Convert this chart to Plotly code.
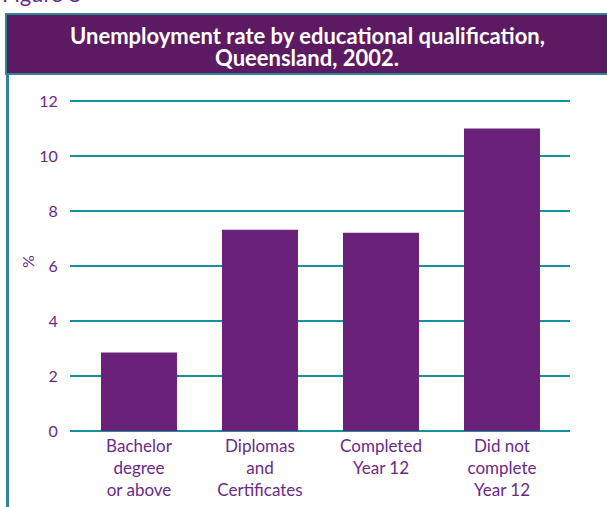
import plotly.graph_objects as go

categories = ["Bachelor<br>degree<br>or above", "Diplomas<br>and<br>Certificates",
              "Completed<br>Year 12", "Did not<br>complete<br>Year 12"]
values = [2.85, 7.32, 7.21, 11.0]
y_ticks = [0, 2, 4, 6, 8, 10, 12]
title_lines = ["Unemployment rate by educational qualification,", "Queensland, 2002."]

PURPLE_TXT = "#6b2a86"
BAR = "#6a217a"
BANNER = "#5c1a63"
TEAL = "#15909c"
BORDER = "#2f8795"

W, H = 607, 507
L, R, T, B = 70, 37, 100, 75
pw, ph = W - L - R, H - T - B

def px(x):
    return (x - L) / pw

def py(y):
    return (H - B - y) / ph

fig = go.Figure(go.Bar(
    x=list(range(len(categories))), y=values,
    marker=dict(color=BAR, line=dict(width=0)),
    width=0.628,
))

fig.update_layout(
    width=W, height=H,
    margin=dict(l=L, r=R, t=T, b=B, autoexpand=False),
    paper_bgcolor="white", plot_bgcolor="white",
    showlegend=False,
    font=dict(family="Lato", color=PURPLE_TXT),
    xaxis=dict(
        tickmode="array", tickvals=list(range(len(categories))), ticktext=categories,
        range=[-0.57, 3.562], showgrid=False, zeroline=False, showline=False,
        ticks="", ticklabelstandoff=2, automargin=False,
        tickfont=dict(size=17, color=PURPLE_TXT),
    ),
    yaxis=dict(
        range=[-0.04, 12.04], tickvals=y_ticks, showgrid=True, gridcolor=TEAL, gridwidth=2,
        zeroline=False, showline=False, ticks="outside", ticklen=8, tickcolor="rgba(0,0,0,0)",
        automargin=False, tickfont=dict(size=16, color=PURPLE_TXT),
    ),
)

# Title banner
fig.add_shape(type="rect", xref="paper", yref="paper",
              x0=px(6), x1=px(612), y0=py(74), y1=py(14),
              fillcolor=BANNER, line=dict(color=BORDER, width=2), layer="above")
# Left border line
fig.add_shape(type="line", xref="paper", yref="paper",
              x0=px(7.5), x1=px(7.5), y0=py(74), y1=py(510),
              line=dict(color=BORDER, width=3))

for line, yc in zip(title_lines, [35, 58]):
    fig.add_annotation(xref="paper", yref="paper", x=px(307), y=py(yc),
                       text="<b>" + line + "</b>",
                       showarrow=False, xanchor="center", yanchor="middle",
                       font=dict(size=22, color="white", family="Lato"))

fig.add_annotation(xref="paper", yref="paper", x=px(0), y=py(9),
                   text="Figure 8", showarrow=False, xanchor="left", yanchor="bottom",
                   font=dict(size=22, color=PURPLE_TXT, family="Lato"))

fig.add_annotation(xref="paper", yref="paper", x=px(27), y=py(262),
                   text="%", textangle=-90, showarrow=False, xanchor="center", yanchor="middle",
                   font=dict(size=16, color=PURPLE_TXT, family="Lato"))

fig.write_html("out.html")
